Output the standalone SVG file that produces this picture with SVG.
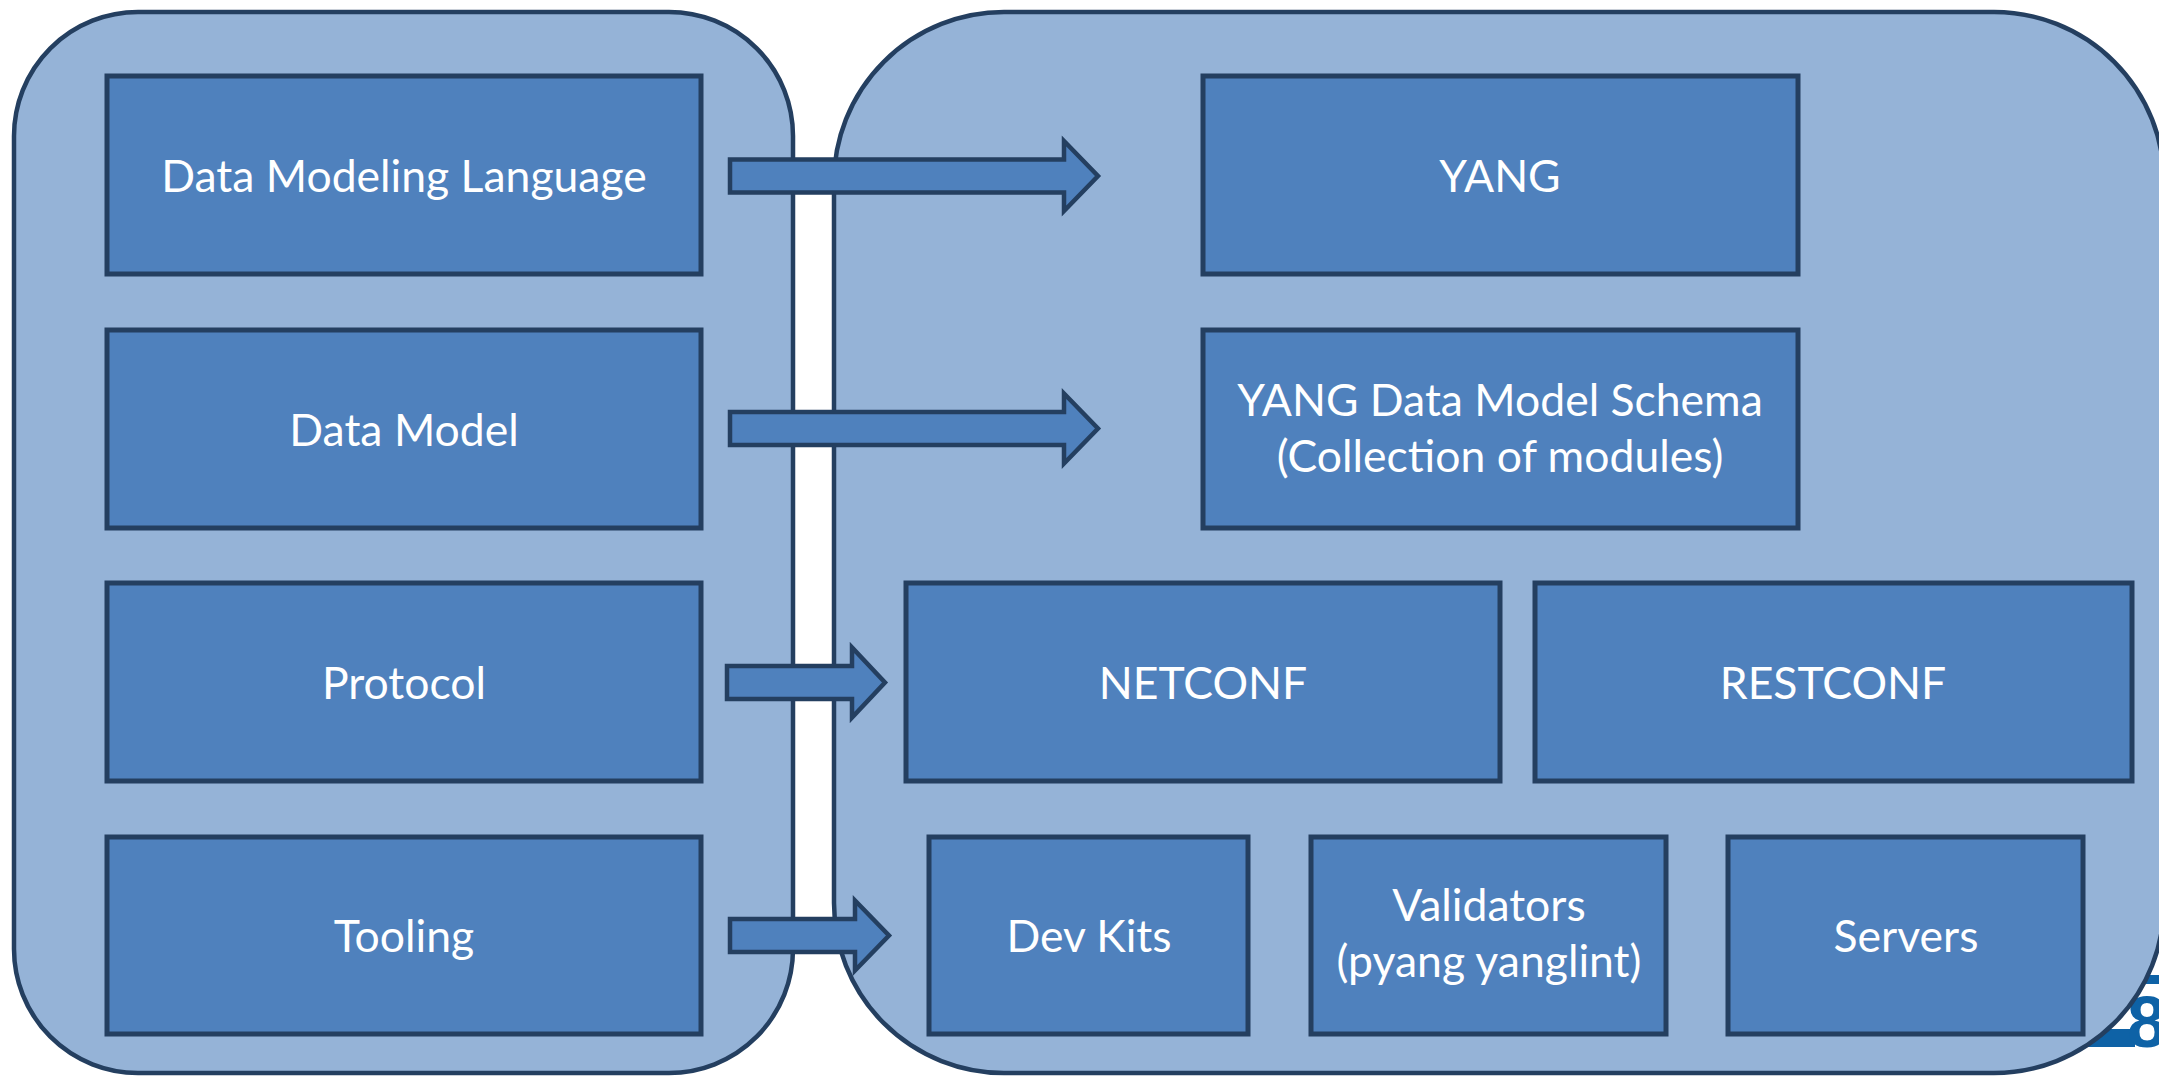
<svg xmlns="http://www.w3.org/2000/svg" width="2159" height="1076" viewBox="0 0 2159 1076">
<style>
.panel{fill:#95B3D7;stroke:#243F60;stroke-width:4.5}
.box{fill:#4F81BD;stroke:#243F60;stroke-width:5}
.arrow{fill:#4F81BD;stroke:#243F60;stroke-width:4.5;stroke-linejoin:miter}
.t{font-family:Lato,"Open Sans",sans-serif;font-size:44.5px;fill:#FFFFFF;text-anchor:middle}
.logo{fill:#0E62A6}
</style>
<rect width="2159" height="1076" fill="#FFFFFF"/>
<g id="logo">
<rect class="logo" x="2090" y="975" width="80" height="9"/>
<rect class="logo" x="2085" y="1029" width="50" height="18"/>
<text x="2127" y="1047" style="font-family:'Liberation Sans',Arial,sans-serif;font-weight:bold;font-size:72px;fill:#0E62A6">8</text>
</g>
<g id="panel-left"><rect class="panel" x="14" y="12" width="779" height="1061" rx="124" ry="124"/></g>
<g id="panel-right"><rect class="panel" x="834" y="12" width="1330" height="1061" rx="170" ry="170"/></g>
<g id="n-dml"><rect class="box" x="107" y="76" width="594" height="198"/><text class="t" x="404" y="192">Data Modeling Language</text></g>
<g id="n-dm"><rect class="box" x="107" y="330" width="594" height="198"/><text class="t" x="404" y="446">Data Model</text></g>
<g id="n-protocol"><rect class="box" x="107" y="583" width="594" height="198"/><text class="t" x="404" y="699">Protocol</text></g>
<g id="n-tooling"><rect class="box" x="107" y="837" width="594" height="197"/><text class="t" x="404" y="952">Tooling</text></g>
<g id="n-yang"><rect class="box" x="1203" y="76" width="595" height="198"/><text class="t" x="1500" y="192">YANG</text></g>
<g id="n-schema"><rect class="box" x="1203" y="330" width="595" height="198"/><text class="t" x="1500" y="416">YANG Data Model Schema</text><text class="t" x="1500" y="472">(Collection of modules)</text></g>
<g id="n-netconf"><rect class="box" x="906" y="583" width="594" height="198"/><text class="t" x="1203" y="699">NETCONF</text></g>
<g id="n-restconf"><rect class="box" x="1535" y="583" width="597" height="198"/><text class="t" x="1833" y="699">RESTCONF</text></g>
<g id="n-devkits"><rect class="box" x="929" y="837" width="319" height="197"/><text class="t" x="1089" y="952">Dev Kits</text></g>
<g id="n-validators"><rect class="box" x="1311" y="837" width="355" height="197"/><text class="t" x="1489" y="921">Validators</text><text class="t" x="1489" y="977">(pyang yanglint)</text></g>
<g id="n-servers"><rect class="box" x="1728" y="837" width="355" height="197"/><text class="t" x="1906" y="952">Servers</text></g>
<g id="connectors">
<polygon class="arrow" points="730,159.5 1064,159.5 1064,141 1098,176 1064,211 1064,192.5 730,192.5"/>
<polygon class="arrow" points="730,412 1064,412 1064,393.5 1098,428.5 1064,463.5 1064,445 730,445"/>
<polygon class="arrow" points="727,666 852,666 852,647.5 885,682.5 852,717.5 852,699 727,699"/>
<polygon class="arrow" points="730,919 855,919 855,900.5 889,935.5 855,970.5 855,952 730,952"/>
</g>
</svg>
